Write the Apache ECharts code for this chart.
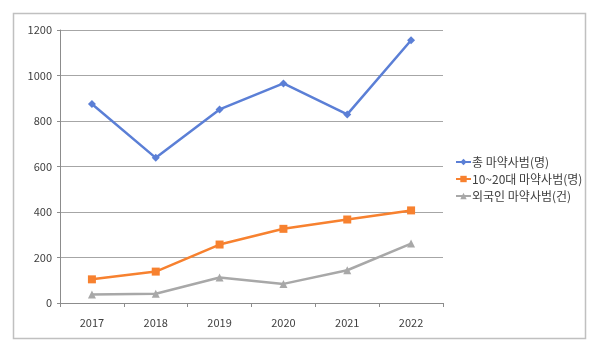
<!DOCTYPE html>
<html><head><meta charset="utf-8">
<script src="https://cdn.jsdelivr.net/npm/echarts@6/dist/echarts.min.js"></script>
<style>html,body{margin:0;padding:0;background:#fff}#c{width:600px;height:350px}</style>
</head><body><div id="c"></div>
<script>
const years = ['2017','2018','2019','2020','2021','2022'];
const totalOffenders = [875, 638, 851, 965, 829, 1155];
const youthOffenders = [104, 138, 257, 326, 367, 407];
const foreignCases = [37, 41, 112, 84, 144, 261];
const seriesNames = ['총 마약사범(명)', '10~20대 마약사범(명)', '외국인 마약사범(건)'];
const font = "'Noto Sans CJK KR', 'DejaVu Sans', sans-serif";
const chart = echarts.init(document.getElementById('c'));
chart.setOption({
  animation: false,
  graphic: [{type:'rect', shape:{x:13.5,y:13.5,width:572,height:325}, style:{fill:'none', stroke:'#c0c0c0', lineWidth:1.5}, silent:true}],
  grid: {left:60, right:157, top:30, bottom:47},
  legend: {
    orient:'vertical', left:450, top:151, itemWidth:15, itemHeight:8, itemGap:5,
    textStyle:{fontFamily:font, fontSize:12, color:'#404040', padding:[0,0,0,-4]},
    data: seriesNames
  },
  xAxis: {
    type:'category', data:years, boundaryGap:true,
    axisLine:{lineStyle:{color:'#8c8c8c', width:1}},
    axisTick:{show:true, interval:0, length:4, lineStyle:{color:'#8c8c8c'}},
    axisLabel:{fontFamily:font, fontSize:11, color:'#404040', margin:14}
  },
  yAxis: {
    type:'value', min:0, max:1200, interval:200,
    axisLine:{show:true, lineStyle:{color:'#8c8c8c'}},
    axisTick:{show:true, length:3, lineStyle:{color:'#8c8c8c'}},
    axisLabel:{fontFamily:font, fontSize:11, color:'#404040', margin:8, formatter: v => String(v)},
    splitLine:{lineStyle:{color:'#a6a6a6', width:1}}
  },
  series: [
    {name:seriesNames[0], type:'line', data:totalOffenders, symbol:'diamond', symbolSize:8,
     lineStyle:{color:'#5b7fd6', width:2.5}, itemStyle:{color:'#5b7fd6'}},
    {name:seriesNames[1], type:'line', data:youthOffenders, symbol:'rect', symbolSize:8,
     lineStyle:{color:'#f7812f', width:2.5}, itemStyle:{color:'#f7812f'}},
    {name:seriesNames[2], type:'line', data:foreignCases, symbol:'triangle', symbolSize:8,
     lineStyle:{color:'#a8a8a8', width:2.5}, itemStyle:{color:'#a8a8a8'}}
  ]
});
</script></body></html>
